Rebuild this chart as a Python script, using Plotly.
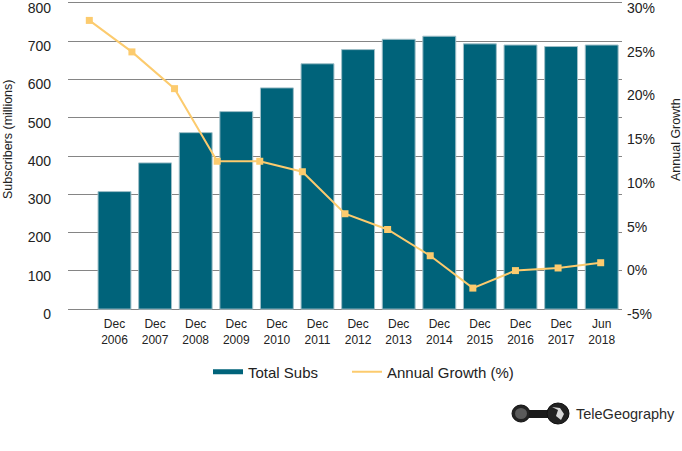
import plotly.graph_objects as go

periods = ["Dec<br>2006", "Dec<br>2007", "Dec<br>2008", "Dec<br>2009", "Dec<br>2010",
           "Dec<br>2011", "Dec<br>2012", "Dec<br>2013", "Dec<br>2014", "Dec<br>2015",
           "Dec<br>2016", "Dec<br>2017", "Jun<br>2018"]
total_subs = [307, 382, 461, 516, 578, 641, 678, 705, 713, 693, 690, 686, 690]
annual_growth = [28.0, 24.4, 20.2, 11.9, 11.9, 10.7, 5.9, 4.1, 1.1, -2.6, -0.6, -0.3, 0.3]

growth_ticks = [-5, 0, 5, 10, 15, 20, 25, 30]
growth_ticktext = ["-5%", "0%", "5%", "10%", "15%", "20%", "25%", "30%"]

TEAL = "#00637a"
GOLD = "#fccb6e"
FONT = "Liberation Sans, Arial, sans-serif"

# a little headroom so the 0 and 800 gridlines are not dropped at the plot edges
pad = 5
growth_pad = pad * 35 / 800

# plot area in pixels: x 68..622, y 1..311
def px(x):
    return (x - 68) / 554

def py(y):
    return (311 - y) / 310

fig = go.Figure()

fig.add_trace(go.Bar(
    x=periods, y=total_subs, name="Total Subs",
    marker=dict(color=TEAL, line=dict(color="#9fbfc8", width=1)),
    showlegend=False, xaxis="x", yaxis="y",
))
fig.add_trace(go.Scatter(
    x=periods, y=annual_growth, name="Annual Growth (%)",
    mode="lines+markers",
    line=dict(color=GOLD, width=2),
    marker=dict(symbol="square", size=7, color=GOLD),
    showlegend=False, xaxis="x2", yaxis="y2", cliponaxis=False,
))

# legend entries (line-style swatches like the original)
fig.add_trace(go.Scatter(x=[None], y=[None], mode="lines", name="Total Subs",
                         line=dict(color=TEAL, width=5), legend="legend"))
fig.add_trace(go.Scatter(x=[None], y=[None], mode="lines", name="Annual Growth (%)",
                         line=dict(color=GOLD, width=2), legend="legend2"))

legend_style = dict(orientation="h", yanchor="middle", y=py(372), xanchor="left",
                    font=dict(size=15), bgcolor="rgba(0,0,0,0)")

fig.update_layout(
    width=682, height=451,
    margin=dict(l=68, r=60, t=1, b=140, autoexpand=False),
    paper_bgcolor="white", plot_bgcolor="white",
    font=dict(family=FONT, color="#222222"),
    bargap=0.19,
    xaxis=dict(
        type="category", range=[-1.145, 12.5], showgrid=False, zeroline=False,
        showline=False, ticks="", tickfont=dict(size=12), ticklabelstandoff=4,
        automargin=False,
    ),
    xaxis2=dict(
        type="category", overlaying="x", range=[-0.5, 12.5], visible=False,
        automargin=False,
    ),
    yaxis=dict(
        range=[-pad, 800 + pad], tickvals=list(range(0, 801, 100)),
        showgrid=True, gridcolor="#858585", gridwidth=1,
        zeroline=False, showline=False, ticks="", tickfont=dict(size=14),
        ticklabelstandoff=16, ticklabelshift=5, ticklabeloverflow="allow",
        automargin=False,
    ),
    yaxis2=dict(
        overlaying="y", side="right", range=[-5 - growth_pad, 30 + growth_pad],
        tickvals=growth_ticks, ticktext=growth_ticktext, showgrid=False,
        zeroline=False, showline=False, ticks="", tickfont=dict(size=14),
        ticklabelstandoff=4, ticklabelshift=5, ticklabeloverflow="allow",
        automargin=False,
    ),
    legend=dict(legend_style, x=px(208)),
    legend2=dict(legend_style, x=px(347)),
)

fig.add_annotation(text="Subscribers (millions)", textangle=-90, xref="paper", yref="paper",
                   x=px(8), y=py(140), xanchor="center", yanchor="middle",
                   showarrow=False, font=dict(size=12.5))
fig.add_annotation(text="Annual Growth", textangle=-90, xref="paper", yref="paper",
                   x=px(676), y=py(140), xanchor="center", yanchor="middle",
                   showarrow=False, font=dict(size=12.5))

# TeleGeography logo
fig.add_annotation(text="TeleGeography", xref="paper", yref="paper", x=px(574), y=py(414),
                   xanchor="left", yanchor="middle", showarrow=False,
                   font=dict(size=14.5, color="#2a2a2a"))
fig.add_shape(type="circle", xref="paper", yref="paper",
              x0=px(512), x1=px(530), y0=py(422), y1=py(405),
              fillcolor="#222222", line=dict(color="#111111", width=1))
fig.add_shape(type="circle", xref="paper", yref="paper",
              x0=px(515), x1=px(527), y0=py(419), y1=py(408),
              fillcolor="#5a5a5a", line=dict(width=0))
fig.add_shape(type="rect", xref="paper", yref="paper",
              x0=px(529), x1=px(548), y0=py(418), y1=py(410),
              fillcolor="#1a1a1a", line=dict(width=0))
fig.add_shape(type="circle", xref="paper", yref="paper",
              x0=px(547), x1=px(569), y0=py(424), y1=py(403),
              fillcolor="#222222", line=dict(color="#111111", width=1))
fig.add_shape(type="path", xref="paper", yref="paper",
              path=f"M {px(552)},{py(407)} L {px(558)},{py(410)} L {px(556)},{py(416)} "
                   f"L {px(561)},{py(420)} L {px(564)},{py(414)} L {px(560)},{py(408)} Z",
              fillcolor="#d8d8d8", line=dict(width=0))

# drop the default 8px page margin so the figure fills the window
fig.write_html("out.html", config={"displayModeBar": False},
               post_script="document.body.style.margin = '0';")
